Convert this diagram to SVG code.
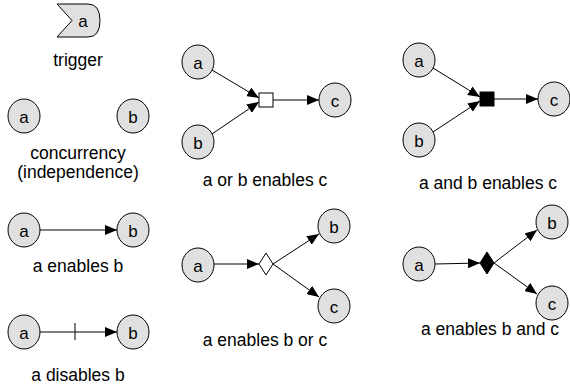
<svg xmlns="http://www.w3.org/2000/svg" width="570" height="387" viewBox="0 0 570 387">
<style>
.n{fill:#e0e0e0;stroke:#000;stroke-width:1}
.t{font-family:"Liberation Sans",Arial,sans-serif;font-size:17.5px;fill:#000;text-anchor:middle}
.nt{font-family:"Liberation Sans",Arial,sans-serif;font-size:17px;fill:#000;text-anchor:middle;dominant-baseline:central}
.e{stroke:#000;stroke-width:1;fill:none}
</style>
<defs>
<marker id="ah" markerWidth="12" markerHeight="10" refX="12" refY="5" orient="auto" markerUnits="userSpaceOnUse">
<path d="M0,0 L12,5 L0,10 Z" fill="#000"/>
</marker>
</defs>
<rect width="570" height="387" fill="#fff"/>

<g id="trigger">
<path class="n" d="M57,4 L88,4 Q100,4 100,20.5 Q100,37 88,37 L57,37 L72,20.5 Z"/>
<text class="nt" x="83" y="21">a</text>
<text class="t" x="78" y="66">trigger</text>
</g>

<g id="concurrency">
<ellipse class="n" cx="24" cy="116" rx="16" ry="17"/>
<text class="nt" x="24" y="117">a</text>
<ellipse class="n" cx="133" cy="116" rx="16" ry="17"/>
<text class="nt" x="133" y="117">b</text>
<text class="t" x="78" y="159">concurrency</text>
<text class="t" x="78" y="178">(independence)</text>
</g>

<g id="enables">
<ellipse class="n" cx="24" cy="230" rx="16" ry="17"/>
<text class="nt" x="24" y="231">a</text>
<ellipse class="n" cx="133" cy="230" rx="16" ry="17"/>
<text class="nt" x="133" y="231">b</text>
<text class="t" x="78" y="272">a enables b</text>
</g>

<g id="disables">
<ellipse class="n" cx="24" cy="332" rx="16" ry="17"/>
<text class="nt" x="24" y="333">a</text>
<ellipse class="n" cx="133" cy="332" rx="16" ry="17"/>
<text class="nt" x="133" y="333">b</text>
<text class="t" x="78" y="381">a disables b</text>
</g>

<g id="or-join">
<ellipse class="n" cx="198" cy="62" rx="16" ry="17"/>
<text class="nt" x="198" y="63">a</text>
<ellipse class="n" cx="198" cy="142" rx="16" ry="17"/>
<text class="nt" x="198" y="143">b</text>
<rect x="259" y="93" width="14" height="14" fill="#fff" stroke="#000"/>
<ellipse class="n" cx="335" cy="100" rx="16" ry="17"/>
<text class="nt" x="335" y="101">c</text>
<text class="t" x="265" y="186">a or b enables c</text>
</g>

<g id="and-join">
<ellipse class="n" cx="419" cy="60" rx="16" ry="17"/>
<text class="nt" x="419" y="61">a</text>
<ellipse class="n" cx="419" cy="140" rx="16" ry="17"/>
<text class="nt" x="419" y="141">b</text>
<rect x="480" y="92" width="14" height="14" fill="#000" stroke="#000"/>
<ellipse class="n" cx="554" cy="99" rx="16" ry="17"/>
<text class="nt" x="554" y="100">c</text>
<text class="t" x="488" y="189">a and b enables c</text>
</g>

<g id="or-split">
<ellipse class="n" cx="198" cy="265" rx="16" ry="17"/>
<text class="nt" x="198" y="266">a</text>
<path d="M266,253 L273,264 L266,275 L259,264 Z" fill="#fff" stroke="#000"/>
<ellipse class="n" cx="334" cy="226" rx="16" ry="17"/>
<text class="nt" x="334" y="227">b</text>
<ellipse class="n" cx="334" cy="306" rx="16" ry="17"/>
<text class="nt" x="334" y="307">c</text>
<text class="t" x="265" y="346">a enables b or c</text>
</g>

<g id="and-split">
<ellipse class="n" cx="419" cy="264" rx="16" ry="17"/>
<text class="nt" x="419" y="265">a</text>
<path d="M487,252 L494,263 L487,274 L480,263 Z" fill="#000" stroke="#000"/>
<ellipse class="n" cx="552" cy="222" rx="16" ry="17"/>
<text class="nt" x="552" y="223">b</text>
<ellipse class="n" cx="552" cy="303" rx="16" ry="17"/>
<text class="nt" x="552" y="304">c</text>
<text class="t" x="490" y="335">a enables b and c</text>
</g>

<g id="connectors">
<line class="e" x1="40" y1="230" x2="117" y2="230" marker-end="url(#ah)"/>
<line class="e" x1="40" y1="332" x2="117" y2="332" marker-end="url(#ah)"/>
<line class="e" x1="75" y1="323" x2="75" y2="340"/>
<line class="e" x1="212" y1="70" x2="259" y2="98" marker-end="url(#ah)"/>
<line class="e" x1="212" y1="134" x2="259" y2="102" marker-end="url(#ah)"/>
<line class="e" x1="273" y1="100" x2="319" y2="100" marker-end="url(#ah)"/>
<line class="e" x1="433" y1="68" x2="480" y2="97" marker-end="url(#ah)"/>
<line class="e" x1="433" y1="132" x2="480" y2="101" marker-end="url(#ah)"/>
<line class="e" x1="494" y1="99" x2="538" y2="99" marker-end="url(#ah)"/>
<line class="e" x1="214" y1="264" x2="259" y2="264" marker-end="url(#ah)"/>
<line class="e" x1="273" y1="264" x2="319" y2="234" marker-end="url(#ah)"/>
<line class="e" x1="273" y1="264" x2="319" y2="297" marker-end="url(#ah)"/>
<line class="e" x1="435" y1="264" x2="480" y2="263" marker-end="url(#ah)"/>
<line class="e" x1="494" y1="263" x2="537" y2="230" marker-end="url(#ah)"/>
<line class="e" x1="494" y1="263" x2="537" y2="294" marker-end="url(#ah)"/>
</g>
</svg>
